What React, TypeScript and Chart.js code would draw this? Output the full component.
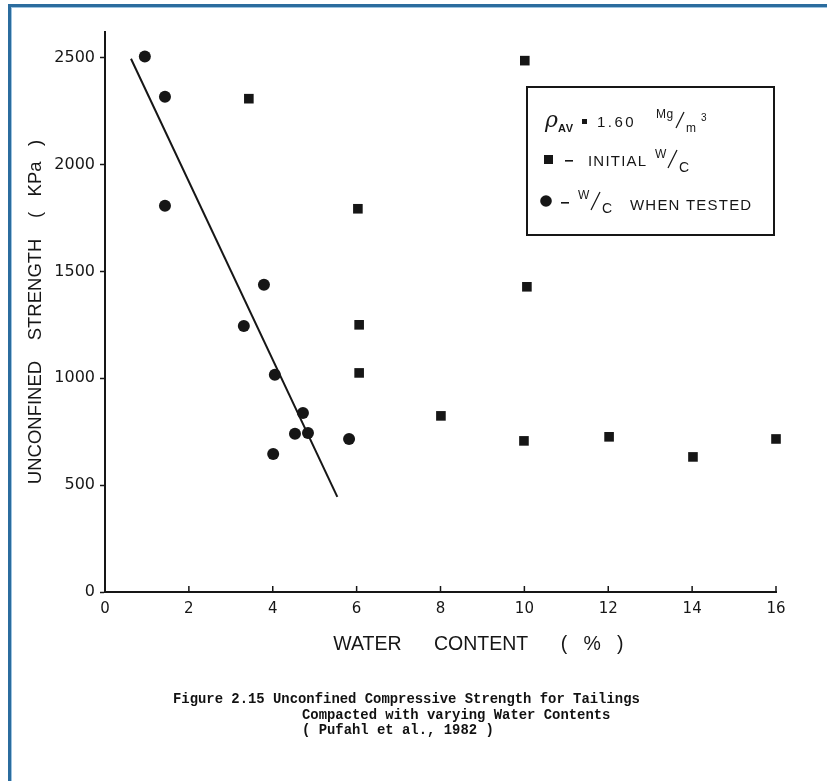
import React, { useEffect, useRef } from "react";
import { Chart, registerables } from "chart.js";

Chart.register(...registerables);

// ---- data ----
const xTickLabels = [0, 2, 4, 6, 8, 10, 12, 14, 16];
const yTickLabels = [0, 500, 1000, 1500, 2000, 2500];

// water content when tested (circles)
const testedX = [0.95, 1.43, 1.43, 3.79, 3.31, 4.05, 4.72, 4.53, 4.84, 4.01, 5.82];
const testedY = [2505, 2317, 1807, 1437, 1245, 1016, 838, 740, 744, 646, 716];

// initial water content (squares)
const initialX = [3.43, 10.01, 6.03, 10.06, 6.06, 6.06, 8.01, 9.99, 12.02, 14.02, 16.0];
const initialY = [2308, 2486, 1793, 1428, 1250, 1025, 824, 707, 726, 632, 716];

// fitted trend line
const trendX = [0.62, 5.54];
const trendY = [2495, 445];

const INK = "#161616";

const innerTicksPlugin = {
  id: "innerTicks",
  afterDraw(chart: any) {
    const xs = chart.scales.x;
    const ctx = chart.ctx;
    ctx.save();
    ctx.strokeStyle = INK;
    ctx.lineWidth = 1.5;
    xs.ticks.forEach((t: any) => {
      if (t.value === 0) return;
      const px = xs.getPixelForValue(t.value);
      ctx.beginPath();
      ctx.moveTo(px, xs.top);
      ctx.lineTo(px, xs.top - 6);
      ctx.stroke();
    });
    ctx.restore();
  },
};

function txt(ctx: any, s: string, x: number, y: number, font: string, spacing = 0) {
  ctx.font = font;
  ctx.letterSpacing = spacing + "px";
  ctx.fillText(s, x, y);
  ctx.letterSpacing = "0px";
}

const legendPlugin = {
  id: "legendBox",
  afterDraw(chart: any) {
    const ctx = chart.ctx;
    ctx.save();
    ctx.strokeStyle = INK;
    ctx.fillStyle = INK;
    ctx.lineWidth = 2;
    ctx.strokeRect(527, 87, 247, 148);
    ctx.textBaseline = "alphabetic";
    ctx.textAlign = "left";
    const F = "'Liberation Sans', Arial, sans-serif";
    // row 1
    txt(ctx, "ρ", 545, 127, `italic 22px 'DejaVu Serif', serif`);
    txt(ctx, "AV", 558, 132, `bold 11px ${F}`, 0.5);
    ctx.fillRect(582, 119, 5, 5);
    txt(ctx, "1.60", 597, 127, `15px ${F}`, 2.5);
    txt(ctx, "Mg", 656, 118, `12px ${F}`, 0.5);
    ctx.lineWidth = 1.3;
    ctx.beginPath();
    ctx.moveTo(676, 128);
    ctx.lineTo(684, 112);
    ctx.stroke();
    txt(ctx, "m", 686, 132, `12px ${F}`);
    txt(ctx, "3", 701, 121, `10px ${F}`);
    // row 2
    ctx.fillRect(544, 155, 9, 9);
    ctx.fillRect(565, 160, 8, 1.6);
    txt(ctx, "INITIAL", 588, 166, `15px ${F}`, 1.2);
    txt(ctx, "W", 655, 158, `12px ${F}`);
    ctx.beginPath();
    ctx.moveTo(668, 168);
    ctx.lineTo(677, 150);
    ctx.stroke();
    txt(ctx, "C", 679, 172, `14px ${F}`);
    // row 3
    ctx.beginPath();
    ctx.arc(546, 201, 5.8, 0, Math.PI * 2);
    ctx.fill();
    ctx.fillRect(561, 202, 8, 1.6);
    txt(ctx, "W", 578, 199, `12px ${F}`);
    ctx.beginPath();
    ctx.moveTo(591, 210);
    ctx.lineTo(600, 192);
    ctx.stroke();
    txt(ctx, "C", 602, 213, `14px ${F}`);
    txt(ctx, "WHEN TESTED", 630, 210, `15px ${F}`, 1.2);
    ctx.restore();
  },
};

export default function App() {
  const ref = useRef<HTMLCanvasElement | null>(null);

  useEffect(() => {
    if (!ref.current) return;
    const chart = new Chart(ref.current, {
      type: "scatter",
      data: {
        datasets: [
          {
            label: "W/C when tested",
            data: testedX.map((x, i) => ({ x, y: testedY[i] })),
            pointStyle: "circle",
            pointRadius: 6,
            backgroundColor: INK,
            borderColor: INK,
            borderWidth: 0,
            clip: false as any,
          },
          {
            label: "Initial W/C",
            data: initialX.map((x, i) => ({ x, y: initialY[i] })),
            pointStyle: "rect",
            pointRadius: 6.8,
            backgroundColor: INK,
            borderColor: INK,
            borderWidth: 0,
            clip: false as any,
          },
          {
            type: "line" as any,
            label: "trend",
            data: trendX.map((x, i) => ({ x, y: trendY[i] })),
            borderColor: INK,
            borderWidth: 2,
            pointRadius: 0,
            showLine: true,
            fill: false,
          },
        ],
      },
      options: {
        responsive: false,
        animation: false,
        layout: { padding: { left: 0, right: 51, top: 32, bottom: 109 } },
        plugins: {
          legend: { display: false },
          tooltip: { enabled: false },
        },
        scales: {
          x: {
            type: "linear",
            min: 0,
            max: 16,
            afterFit: (s: any) => {
              s.height = 80;
            },
            afterBuildTicks: (s: any) => {
              s.ticks = xTickLabels.map((v) => ({ value: v }));
            },
            border: { display: true, color: INK, width: 2 },
            grid: { display: true, drawOnChartArea: false, drawTicks: false },
            ticks: {
              padding: 8,
              color: INK,
              font: { family: "'DejaVu Sans', sans-serif", size: 15 },
              maxRotation: 0,
              callback: (v: any) => String(v),
            },
            title: {
              display: true,
              text: "              WATER      CONTENT      (   %   )",
              color: INK,
              font: { family: "'Liberation Sans', Arial, sans-serif", size: 19.5 },
              padding: { top: 0, bottom: 16 },
            },
          },
          y: {
            type: "linear",
            min: 0,
            max: 2620,
            afterFit: (s: any) => {
              s.width = 105;
            },
            afterBuildTicks: (s: any) => {
              s.ticks = yTickLabels.map((v) => ({ value: v }));
            },
            border: { display: true, color: INK, width: 2 },
            grid: {
              display: true,
              drawOnChartArea: false,
              drawTicks: true,
              tickLength: 5,
              tickWidth: 1.5,
              tickColor: INK,
            },
            ticks: {
              padding: 5,
              color: INK,
              font: { family: "'DejaVu Sans', sans-serif", size: 16 },
              callback: (v: any) => String(v),
            },
            title: {
              display: true,
              text: "UNCONFINED    STRENGTH    (   KPa   )",
              color: INK,
              font: { family: "'Liberation Sans', Arial, sans-serif", size: 18.5 },
              padding: { top: 25, bottom: 0 },
            },
          },
        },
      },
      plugins: [innerTicksPlugin, legendPlugin],
    });
    return () => chart.destroy();
  }, []);

  const cap: React.CSSProperties = {
    position: "absolute",
    fontFamily: "'Liberation Mono', 'DejaVu Sans Mono', monospace",
    fontWeight: "bold",
    fontSize: "13.9px",
    lineHeight: "15px",
    whiteSpace: "pre",
    color: "#111",
  };

  return (
    <div
      style={{
        position: "absolute",
        left: 0,
        top: 0,
        width: 827,
        height: 781,
        overflow: "hidden",
        background: "#fff",
      }}
    >
      <div
        style={{
          position: "absolute",
          left: 8,
          top: 4,
          width: 1000,
          height: 1000,
          borderTop: "3px solid #2b6c9e",
          borderLeft: "3px solid #2b6c9e",
          boxShadow: "inset 1px 1px 0 #9cc3e0",
        }}
      />
      <canvas
        ref={ref}
        width={827}
        height={781}
        style={{ position: "absolute", left: 0, top: 0, width: 827, height: 781 }}
      />
      <div style={{ ...cap, left: 173, top: 692 }}>
        Figure 2.15 Unconfined Compressive Strength for Tailings
      </div>
      <div style={{ ...cap, left: 302, top: 708 }}>Compacted with varying Water Contents</div>
      <div style={{ ...cap, left: 302, top: 723 }}>( Pufahl et al., 1982 )</div>
    </div>
  );
}
